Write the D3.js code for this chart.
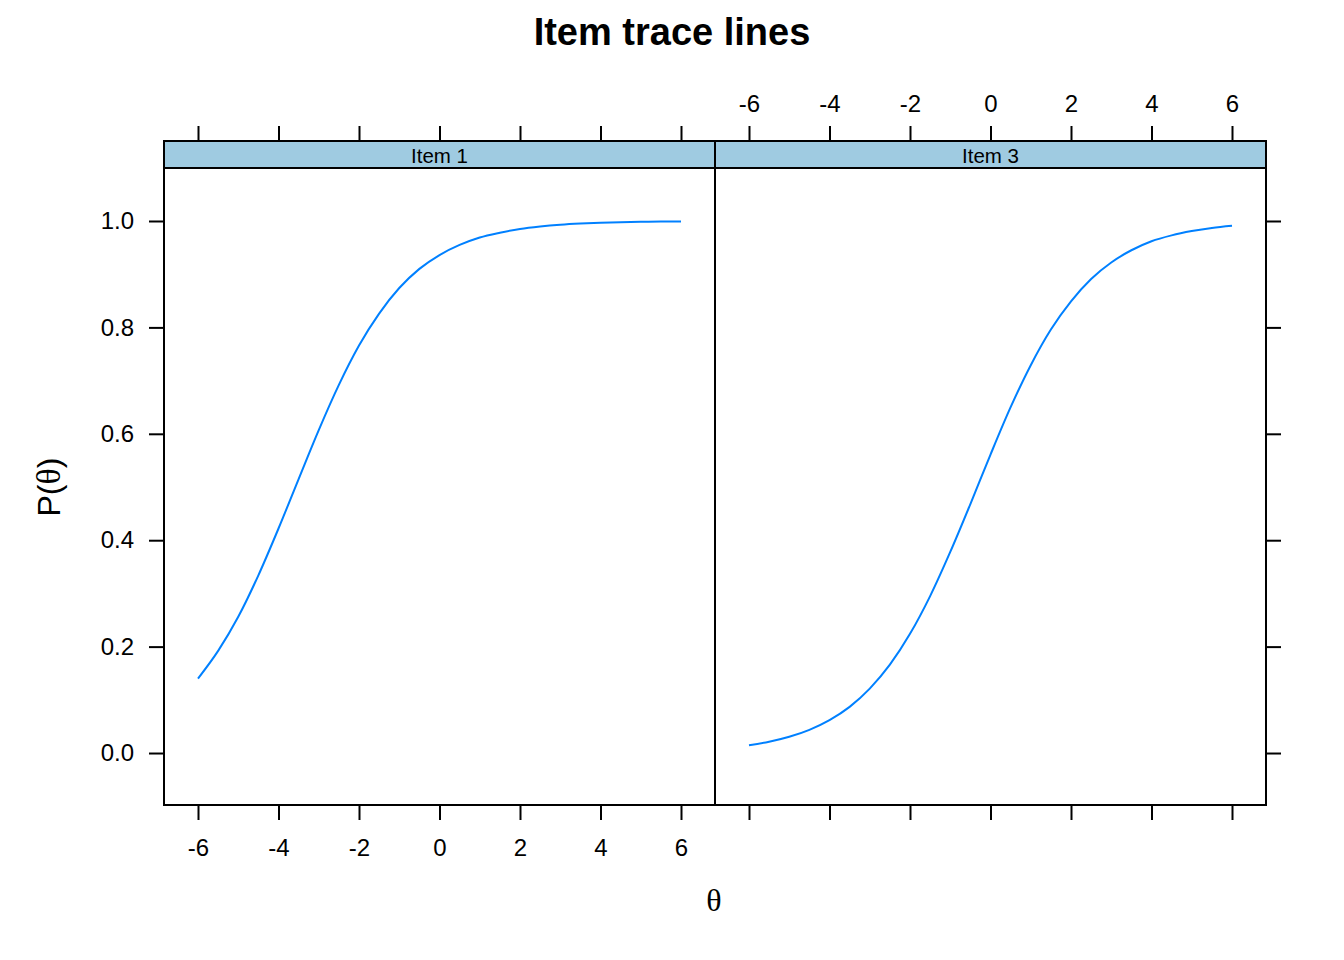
<!DOCTYPE html>
<html>
<head>
<meta charset="utf-8">
<script src="https://cdn.jsdelivr.net/npm/d3@7"></script>
<style>
html,body{margin:0;padding:0;background:#fff;}
svg text{font-family:"Liberation Sans",Arial,sans-serif;}
</style>
</head>
<body>
<svg id="chart" width="1344" height="960"></svg>
<script>
// ---- data ----
const panels = ["Item 1", "Item 3"];
const theta = [-6,-5.5,-5,-4.5,-4,-3.5,-3,-2.5,-2,-1.5,-1,-0.5,0,0.5,1,1.5,2,2.5,3,3.5,4,4.5,5,5.5,6];
const item1 = [0.140,0.192,0.256,0.334,0.422,0.515,0.607,0.692,0.766,0.826,0.874,0.910,0.936,0.955,0.969,0.978,0.985,0.9896,0.9929,0.9951,0.9966,0.9977,0.9984,0.9989,0.9992];
const item3 = [0.0146,0.0212,0.0305,0.0436,0.0618,0.0867,0.121,0.166,0.224,0.295,0.378,0.468,0.561,0.650,0.729,0.796,0.849,0.891,0.922,0.945,0.962,0.973,0.981,0.987,0.991];
const xTicks = [-6,-4,-2,0,2,4,6];
const yTicks = [0.0,0.2,0.4,0.6,0.8,1.0];
const seriesList = [item1, item3];

(function(){
// ---- layout ----
const svg = d3.select("#chart");
const left = 164, panelW = 551, plotTop = 168, plotBottom = 805, stripH = 27;
const tickLen = 15;
const lineColor = "#0080ff";
const stripFill = "#9fcbe1";

const y = d3.scaleLinear().domain([-0.0977, 1.0996]).range([plotBottom, plotTop]);

svg.append("text").attr("x", 672).attr("y", 45).attr("text-anchor", "middle")
  .attr("font-size", 38).attr("font-weight", "bold").text("Item trace lines");

panels.forEach((name, i) => {
  const x0 = left + i * panelW, x1 = x0 + panelW;
  const x = d3.scaleLinear().domain([-6, 6]).range([x0 + 34, x1 - 34]);
  const g = svg.append("g");

  // curve
  const line = d3.line().x((d, k) => x(theta[k])).y(d => y(d)).curve(d3.curveMonotoneX);
  g.append("path").datum(seriesList[i]).attr("d", line)
    .attr("fill", "none").attr("stroke", lineColor).attr("stroke-width", 2);

  // strip
  g.append("rect").attr("x", x0).attr("y", plotTop - stripH).attr("width", panelW).attr("height", stripH)
    .attr("fill", stripFill).attr("stroke", "#000").attr("stroke-width", 2);
  g.append("text").attr("x", (x0 + x1) / 2).attr("y", plotTop - 5).attr("text-anchor", "middle")
    .attr("font-size", 20.5).text(name);

  // panel border
  g.append("rect").attr("x", x0).attr("y", plotTop).attr("width", panelW).attr("height", plotBottom - plotTop)
    .attr("fill", "none").attr("stroke", "#000").attr("stroke-width", 2);

  // bottom axis
  const bAx = g.append("g").attr("transform", `translate(0,${plotBottom})`)
    .call(d3.axisBottom(x).tickValues(xTicks).tickSize(tickLen).tickSizeOuter(0)
      .tickFormat(i === 0 ? d3.format("d") : () => ""));
  // top axis
  const tAx = g.append("g").attr("transform", `translate(0,${plotTop - stripH})`)
    .call(d3.axisTop(x).tickValues(xTicks).tickSize(tickLen).tickSizeOuter(0)
      .tickFormat(i === 1 ? d3.format("d") : () => ""));
  [bAx, tAx].forEach(a => {
    a.select(".domain").remove();
    a.selectAll("line").attr("stroke", "#000").attr("stroke-width", 2);
    a.selectAll("text").attr("font-size", 24).attr("fill", "#000")
      .attr("font-family", "'Liberation Sans', Arial, sans-serif")
      .text(function(){ return this.textContent.replace("\u2212", "-"); });
  });
  bAx.selectAll("text").attr("dy", null).attr("y", 51);
  tAx.selectAll("text").attr("y", -29);

  // y axes
  if (i === 0) {
    const lAx = g.append("g").attr("transform", `translate(${x0},0)`)
      .call(d3.axisLeft(y).tickValues(yTicks).tickSize(tickLen).tickSizeOuter(0).tickFormat(d3.format(".1f")));
    lAx.select(".domain").remove();
    lAx.selectAll("line").attr("stroke", "#000").attr("stroke-width", 2);
    lAx.selectAll("text").attr("font-size", 24).attr("fill", "#000").attr("x", -30)
      .attr("font-family", "'Liberation Sans', Arial, sans-serif");
  } else {
    const rAx = g.append("g").attr("transform", `translate(${x1},0)`)
      .call(d3.axisRight(y).tickValues(yTicks).tickSize(tickLen).tickSizeOuter(0).tickFormat(() => ""));
    rAx.select(".domain").remove();
    rAx.selectAll("line").attr("stroke", "#000").attr("stroke-width", 2);
  }
});

// axis titles
svg.append("text").attr("x", 714).attr("y", 911).attr("text-anchor", "middle")
  .attr("font-size", 32).style("font-family", "'Liberation Serif', serif").text("θ");
const yl = svg.append("text").attr("transform", "translate(60,487) rotate(-90)").attr("text-anchor", "middle")
  .attr("font-size", 32);
yl.append("tspan").text("P(");
yl.append("tspan").style("font-family", "'Liberation Serif', serif").attr("font-size", 34).text("θ");
yl.append("tspan").text(")");
})();
</script>
</body>
</html>
